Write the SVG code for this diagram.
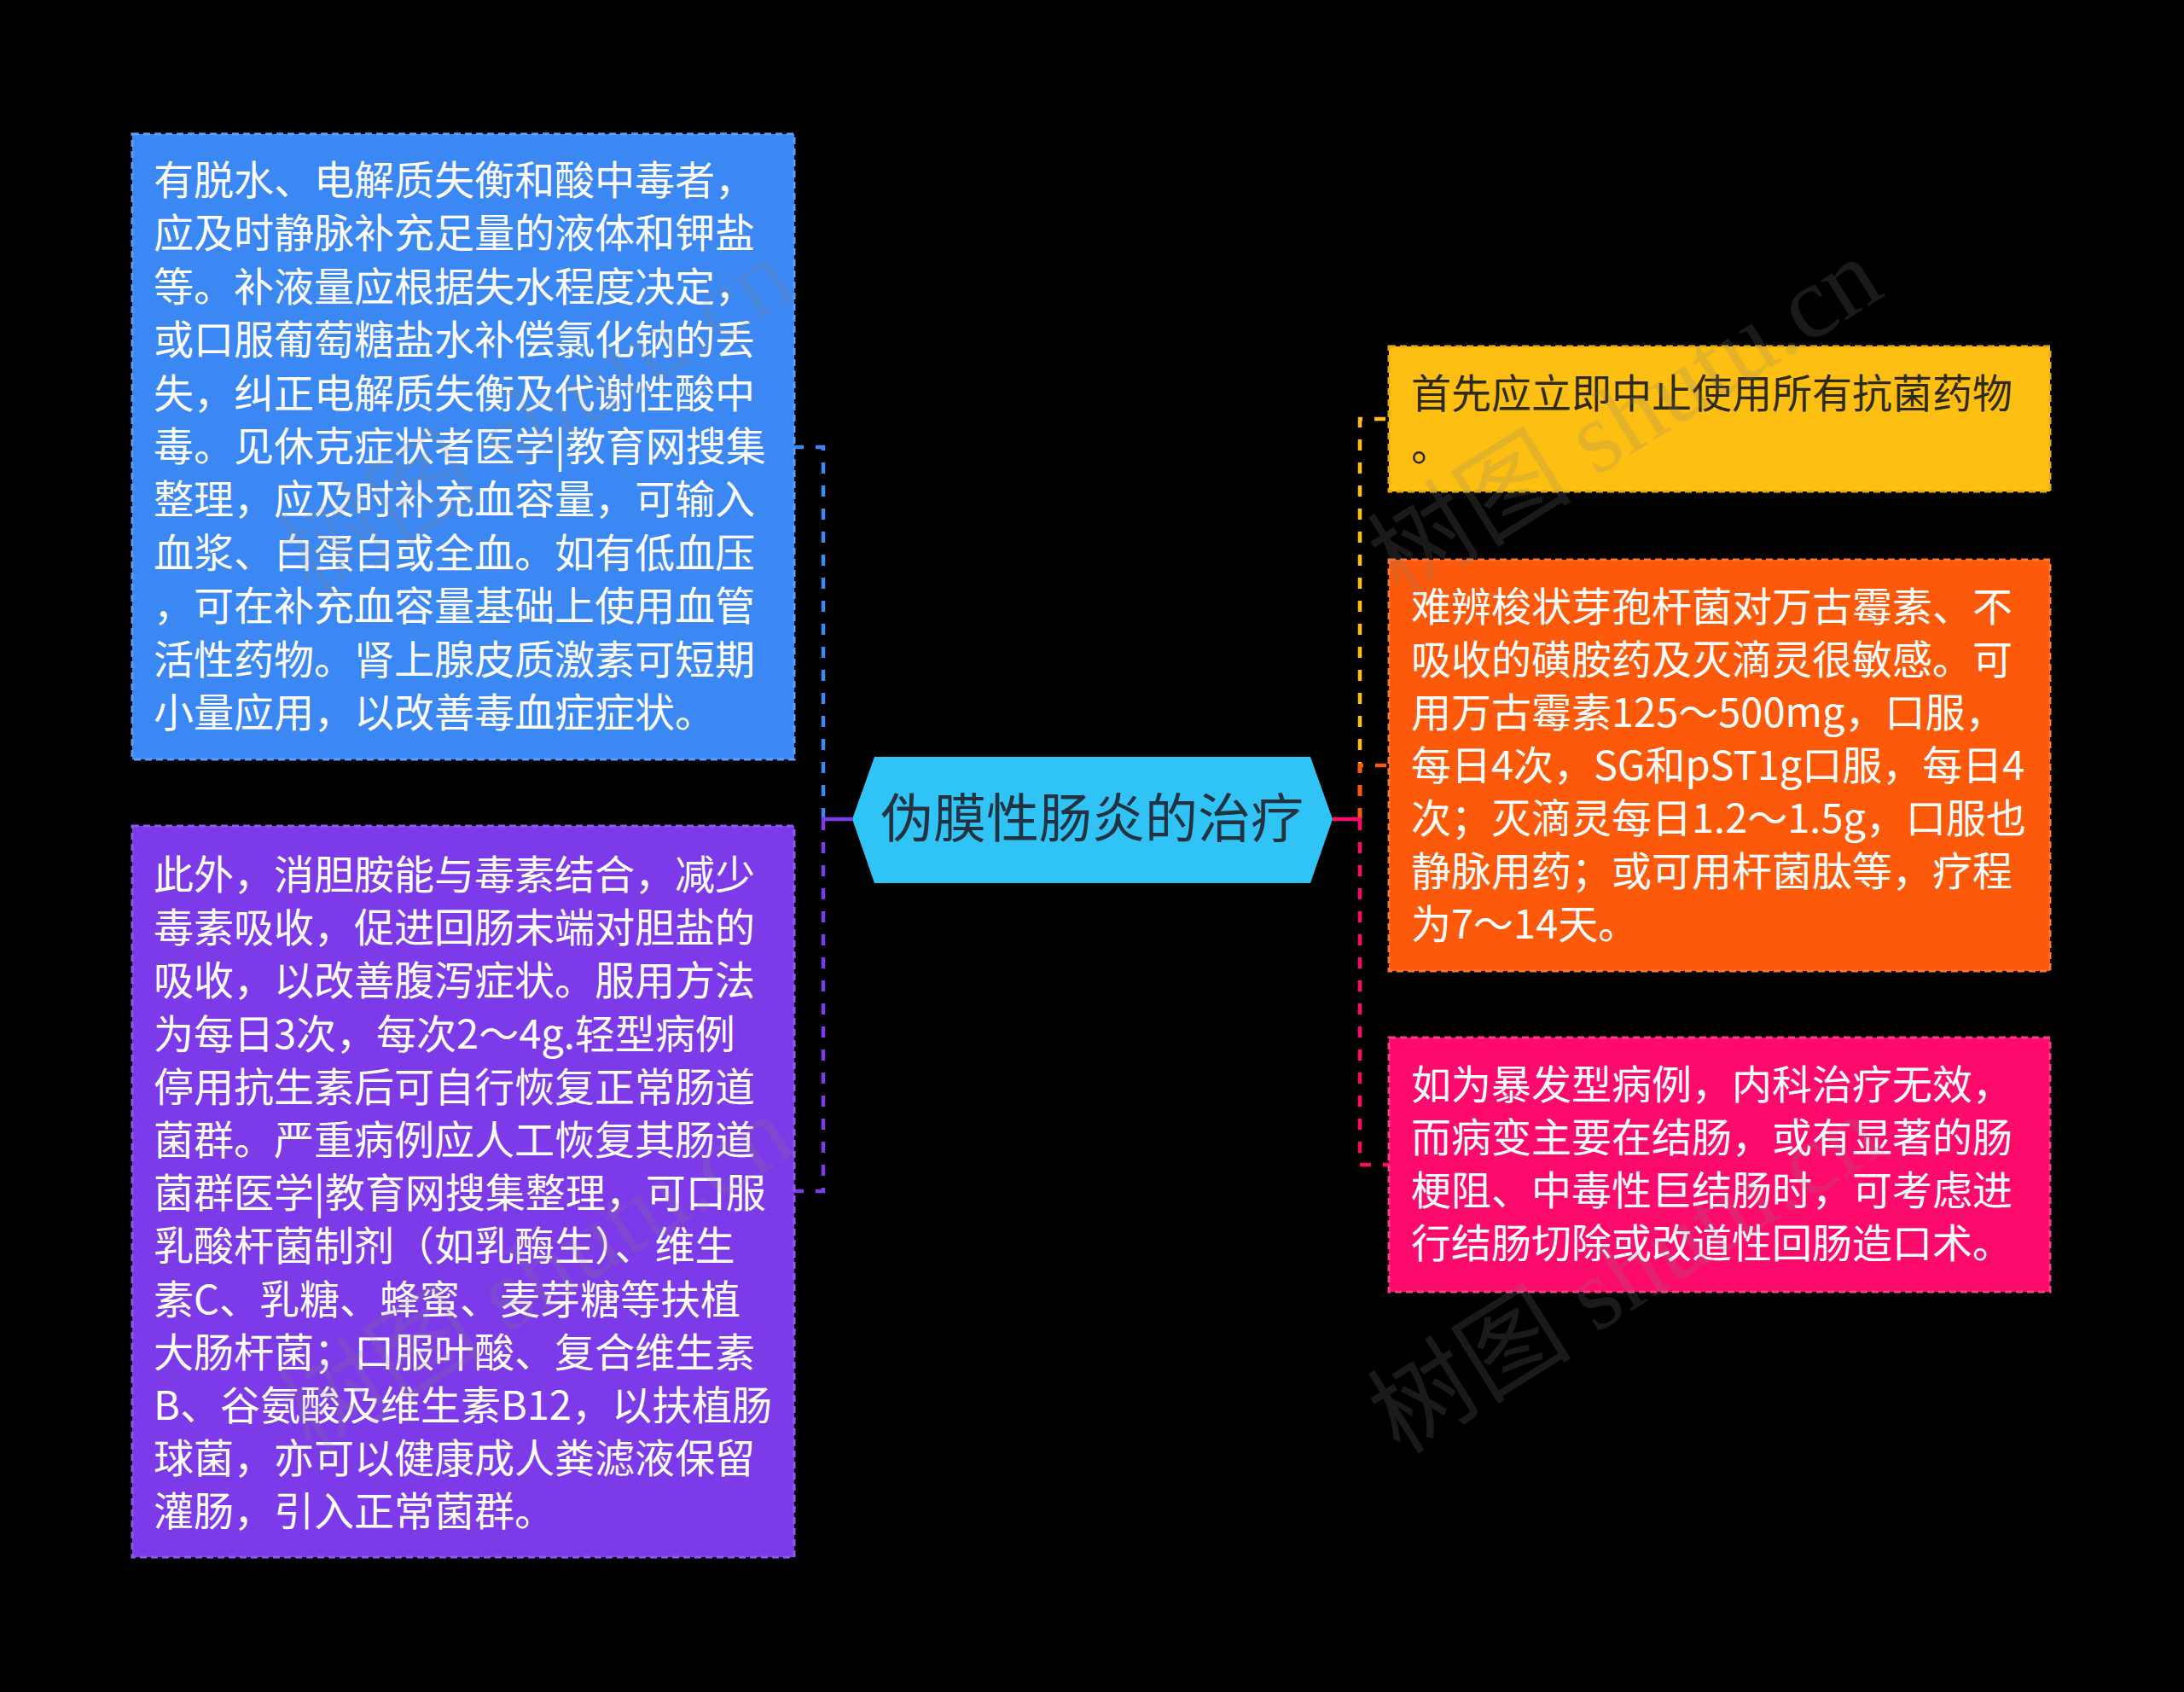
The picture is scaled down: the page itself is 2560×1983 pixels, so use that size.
<svg xmlns="http://www.w3.org/2000/svg" width="2560" height="1983" viewBox="0 0 2560 1983">
<style>
.t{font-family:"Microsoft YaHei","Noto Sans CJK SC","Noto Sans",sans-serif;font-size:47px}
.w{fill:#ffffff}
.d{fill:#2e2a14}
.box{stroke-width:3;stroke-dasharray:8 5}
.con{fill:none;stroke-width:4.5;stroke-dasharray:13 14}
.stub{fill:none;stroke-width:4.5}
.wm{font-family:"Liberation Serif","Noto Sans CJK SC",serif;font-size:120px;fill:#808080;fill-opacity:0.2}
</style>
<rect x="0" y="0" width="2560" height="1983" fill="#000000"/>
<g id="connectors">
<path class="con" stroke="#3b88f5" d="M965 960 V524 H931"/>
<path class="con" stroke="#7d3ae8" d="M965 960 V1396 H931"/>
<path class="stub" stroke="#7d3ae8" d="M999 960 H963"/>
<path class="con" stroke="#fdbf12" d="M1594 960 V491 H1628"/>
<path class="con" stroke="#fc5a0a" d="M1594 960 V897 H1628"/>
<path class="con" stroke="#fc0a6c" d="M1594 960 V1365 H1628"/>
<path class="stub" stroke="#fc0a6c" d="M1562 960 H1596"/>
</g>
<g id="root">
<polygon points="999,960 1025,887 1536,887 1562,960 1536,1035 1025,1035" fill="#2fc4f5"/>
<text x="1280" y="982" text-anchor="middle" font-family="Microsoft YaHei,Noto Sans CJK SC,sans-serif" font-size="62" fill="#233240">伪膜性肠炎的治疗</text>
</g>
<g id="node-blue">
<rect class="box" x="155" y="157" width="776" height="733" fill="#3b88f5" stroke="#5b9cf7"/>
<text class="t w"><tspan x="180" y="228">有脱水、电解质失衡和酸中毒者，</tspan><tspan x="180" y="290.4">应及时静脉补充足量的液体和钾盐</tspan><tspan x="180" y="352.8">等。补液量应根据失水程度决定，</tspan><tspan x="180" y="415.2">或口服葡萄糖盐水补偿氯化钠的丢</tspan><tspan x="180" y="477.6">失，纠正电解质失衡及代谢性酸中</tspan><tspan x="180" y="540">毒。见休克症状者医学|教育网搜集</tspan><tspan x="180" y="602.4">整理，应及时补充血容量，可输入</tspan><tspan x="180" y="664.8">血浆、白蛋白或全血。如有低血压</tspan><tspan x="180" y="727.2">，可在补充血容量基础上使用血管</tspan><tspan x="180" y="789.6">活性药物。肾上腺皮质激素可短期</tspan><tspan x="180" y="852">小量应用，以改善毒血症症状。</tspan></text>
</g>
<g id="node-purple">
<rect class="box" x="155" y="968" width="776" height="857" fill="#7d3ae8" stroke="#9157ee"/>
<text class="t w"><tspan x="180" y="1042">此外，消胆胺能与毒素结合，减少</tspan><tspan x="180" y="1104.2">毒素吸收，促进回肠末端对胆盐的</tspan><tspan x="180" y="1166.4">吸收，以改善腹泻症状。服用方法</tspan><tspan x="180" y="1228.6">为每日3次，每次2～4g.轻型病例</tspan><tspan x="180" y="1290.8">停用抗生素后可自行恢复正常肠道</tspan><tspan x="180" y="1353">菌群。严重病例应人工恢复其肠道</tspan><tspan x="180" y="1415.2">菌群医学|教育网搜集整理，可口服</tspan><tspan x="180" y="1477.4">乳酸杆菌制剂（如乳酶生）、维生</tspan><tspan x="180" y="1539.6">素C、乳糖、蜂蜜、麦芽糖等扶植</tspan><tspan x="180" y="1601.8">大肠杆菌；口服叶酸、复合维生素</tspan><tspan x="180" y="1664">B、谷氨酸及维生素B12，以扶植肠</tspan><tspan x="180" y="1726.2">球菌，亦可以健康成人粪滤液保留</tspan><tspan x="180" y="1788.4">灌肠，引入正常菌群。</tspan></text>
</g>
<g id="node-yellow">
<rect class="box" x="1628" y="406" width="775" height="170" fill="#fdbf12" stroke="#e6ac0c"/>
<text class="t d"><tspan x="1654" y="478">首先应立即中止使用所有抗菌药物</tspan><tspan x="1654" y="540">。</tspan></text>
</g>
<g id="node-orange">
<rect class="box" x="1628" y="656" width="775" height="482" fill="#fc5a0a" stroke="#fd7533"/>
<text class="t w"><tspan x="1654" y="728">难辨梭状芽孢杆菌对万古霉素、不</tspan><tspan x="1654" y="790">吸收的磺胺药及灭滴灵很敏感。可</tspan><tspan x="1654" y="852">用万古霉素125～500mg，口服，</tspan><tspan x="1654" y="914">每日4次，SG和pST1g口服，每日4</tspan><tspan x="1654" y="976">次；灭滴灵每日1.2～1.5g，口服也</tspan><tspan x="1654" y="1038">静脉用药；或可用杆菌肽等，疗程</tspan><tspan x="1654" y="1100">为7～14天。</tspan></text>
</g>
<g id="node-pink">
<rect class="box" x="1628" y="1216" width="775" height="298" fill="#fc0a6c" stroke="#fd3a88"/>
<text class="t w"><tspan x="1654" y="1288">如为暴发型病例，内科治疗无效，</tspan><tspan x="1654" y="1350">而病变主要在结肠，或有显著的肠</tspan><tspan x="1654" y="1412">梗阻、中毒性巨结肠时，可考虑进</tspan><tspan x="1654" y="1474">行结肠切除或改道性回肠造口术。</tspan></text>
</g>
<g id="watermarks">
<text class="wm" transform="translate(365 702) rotate(-32)">树图 shutu.cn</text>
<text class="wm" transform="translate(1641 702) rotate(-32)">树图 shutu.cn</text>
<text class="wm" transform="translate(365 1706) rotate(-32)">树图 shutu.cn</text>
<text class="wm" transform="translate(1641 1706) rotate(-32)">树图 shutu.cn</text>
</g>
</svg>
